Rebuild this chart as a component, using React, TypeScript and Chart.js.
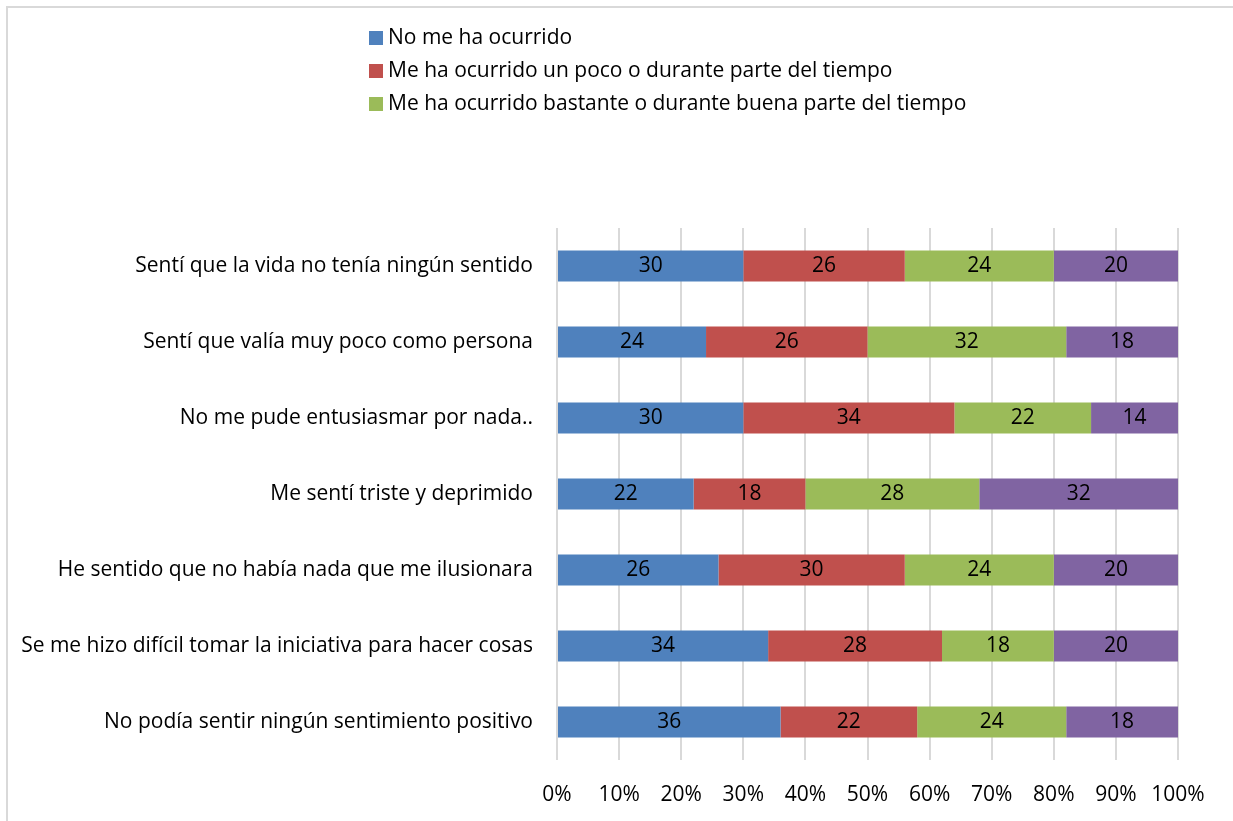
import React, { useEffect, useRef } from "react";
import { Chart, registerables } from "chart.js";

Chart.register(...registerables);

const categories = [
  "Sentí que la vida no tenía ningún sentido",
  "Sentí que valía muy poco como persona",
  "No me pude entusiasmar por nada..",
  "Me sentí triste y deprimido",
  "He sentido que no había nada que me ilusionara",
  "Se me hizo difícil tomar la iniciativa para hacer cosas",
  "No podía sentir ningún sentimiento positivo",
];

const seriesNames = [
  "No me ha ocurrido",
  "Me ha ocurrido un poco o durante parte del tiempo",
  "Me ha ocurrido bastante o durante buena parte del tiempo",
  "Me ha ocurrido mucho o la mayor parte del tiempo",
];

const noMeHaOcurrido = [30, 24, 30, 22, 26, 34, 36];
const unPoco = [26, 26, 34, 18, 30, 28, 22];
const bastante = [24, 32, 22, 28, 24, 18, 24];
const mucho = [20, 18, 14, 32, 20, 20, 18];

const xTickLabels = ["0%", "10%", "20%", "30%", "40%", "50%", "60%", "70%", "80%", "90%", "100%"];

const seriesColors = ["#4F81BD", "#C0504D", "#9BBB59", "#8064A2"];
const legendShown = 3;

const FONT = "'Open Sans', Lato, sans-serif";
const FONT_SIZE = 21;

const framePlugin = {
  id: "frame",
  beforeDraw(chart: any) {
    const ctx = chart.ctx;
    ctx.save();
    ctx.fillStyle = "#ffffff";
    ctx.fillRect(0, 0, chart.width, chart.height);
    ctx.strokeStyle = "#d9d9d9";
    ctx.lineWidth = 2;
    ctx.beginPath();
    ctx.moveTo(7, chart.height);
    ctx.lineTo(7, 7);
    ctx.lineTo(chart.width, 7);
    ctx.stroke();
    ctx.restore();
  },
};

const legendPlugin = {
  id: "customLegend",
  afterDraw(chart: any) {
    const ctx = chart.ctx;
    ctx.save();
    ctx.font = `${FONT_SIZE}px ${FONT}`;
    ctx.textBaseline = "middle";
    ctx.textAlign = "left";
    chart.data.datasets.slice(0, legendShown).forEach((ds: any, i: number) => {
      const cy = 38 + i * 33;
      ctx.fillStyle = ds.backgroundColor;
      ctx.fillRect(369, cy - 7, 14, 14);
      ctx.fillStyle = "#000000";
      ctx.fillText(ds.label, 388, cy);
    });
    ctx.restore();
  },
};

const valuePlugin = {
  id: "valueLabels",
  afterDatasetsDraw(chart: any) {
    const ctx = chart.ctx;
    ctx.save();
    ctx.font = `${FONT_SIZE}px ${FONT}`;
    ctx.textAlign = "center";
    ctx.textBaseline = "middle";
    ctx.fillStyle = "#000000";
    chart.data.datasets.forEach((ds: any, di: number) => {
      const meta = chart.getDatasetMeta(di);
      meta.data.forEach((el: any, i: number) => {
        const v = ds.data[i];
        const cx = (el.x + el.base) / 2;
        ctx.fillText(String(v), cx, el.y);
      });
    });
    ctx.restore();
  },
};

export default function App() {
  const ref = useRef<HTMLCanvasElement | null>(null);

  useEffect(() => {
    if (!ref.current) return;
    const values = [noMeHaOcurrido, unPoco, bastante, mucho];
    const chart = new Chart(ref.current, {
      type: "bar",
      data: {
        labels: categories,
        datasets: seriesNames.map((name, i) => ({
          label: name,
          data: values[i],
          backgroundColor: seriesColors[i],
          borderWidth: 0,
          barPercentage: 0.41,
          categoryPercentage: 1,
        })),
      },
      options: {
        indexAxis: "y",
        animation: false,
        responsive: false,
        maintainAspectRatio: false,
        layout: { padding: { top: 228, right: 55, left: 0, bottom: 0 } },
        plugins: {
          legend: { display: false },
          tooltip: { enabled: false },
          title: { display: false },
        },
        scales: {
          x: {
            stacked: true,
            min: 0,
            max: 100,
            grid: { color: "#d9d9d9", lineWidth: 2, drawTicks: false },
            border: { display: false },
            ticks: {
              stepSize: 10,
              padding: 22,
              maxRotation: 0,
              autoSkip: false,
              color: "#000000",
              font: { size: FONT_SIZE, family: FONT },
              callback: (_v: any, i: number) => xTickLabels[i],
            },
            afterFit: (s: any) => {
              s.height = 61;
            },
          },
          y: {
            stacked: true,
            grid: { display: false, drawTicks: false },
            border: { display: false },
            ticks: {
              padding: 24,
              color: "#000000",
              font: { size: FONT_SIZE, family: FONT },
            },
            afterFit: (s: any) => {
              s.width = 557;
            },
          },
        },
      },
      plugins: [framePlugin, legendPlugin, valuePlugin],
    });
    return () => chart.destroy();
  }, []);

  return (
    <div style={{ position: "fixed", left: 0, top: 0, width: 1233, height: 821 }}>
      <canvas ref={ref} width={1233} height={821} style={{ display: "block" }} />
    </div>
  );
}
